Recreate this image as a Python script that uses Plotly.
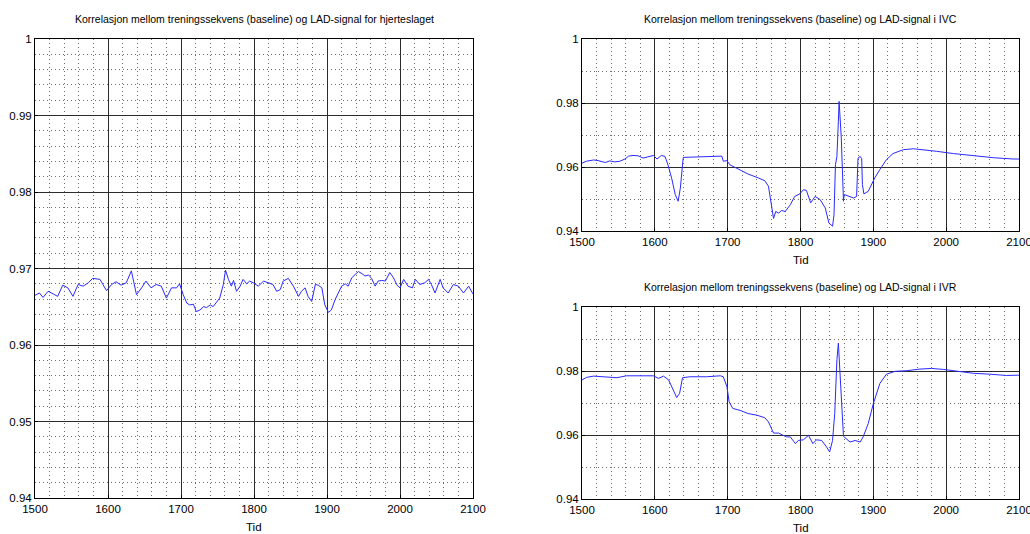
import plotly.graph_objects as go

# --- Heart layer correlation (left panel) ---
hjerte_t = [1500, 1506, 1511, 1518, 1525, 1531, 1538, 1545, 1552, 1559, 1566, 1573, 1579,
            1589, 1593, 1598, 1605, 1611, 1618, 1625, 1632, 1639, 1646, 1652, 1659, 1666,
            1673, 1680, 1687, 1694, 1698,
            1703, 1708, 1712, 1717, 1721, 1726, 1731, 1735, 1740, 1744, 1749, 1753, 1758,
            1761, 1765, 1769, 1772, 1776, 1781, 1785, 1790, 1794, 1799, 1806, 1813, 1820,
            1826, 1831, 1836, 1840, 1847, 1854, 1861, 1865, 1870, 1874, 1879, 1884, 1888,
            1893, 1897, 1902,
            1906, 1911, 1916, 1920, 1925, 1929, 1934, 1938, 1943, 1948, 1952, 1957, 1961,
            1966, 1970, 1975, 1980, 1986, 1991, 1996, 2000, 2005, 2011, 2017, 2021, 2027,
            2034, 2039, 2043, 2048, 2055, 2059, 2066, 2073, 2080, 2087, 2094, 2100]
hjerte_r = [0.96649, 0.96680, 0.96622, 0.96702, 0.96667, 0.96636, 0.96782, 0.96747,
            0.96636, 0.96791, 0.96769, 0.96813, 0.96871, 0.96858, 0.96791, 0.96711,
            0.96791, 0.96827, 0.96782, 0.96813, 0.96969, 0.96658, 0.96747, 0.96836,
            0.96747, 0.96791, 0.96769, 0.96613, 0.96747, 0.96747, 0.96800,
            0.96658, 0.96547, 0.96524, 0.96533, 0.96436, 0.96458, 0.96502, 0.96489,
            0.96524, 0.96502, 0.96569, 0.96613, 0.96791, 0.96978, 0.96858, 0.96769,
            0.96844, 0.96702, 0.96769, 0.96858, 0.96800, 0.96836, 0.96813, 0.96769,
            0.96836, 0.96813, 0.96791, 0.96702, 0.96724, 0.96836, 0.96871, 0.96769,
            0.96636, 0.96702, 0.96747, 0.96636, 0.96569, 0.96791, 0.96782, 0.96747,
            0.96524, 0.96427,
            0.96458, 0.96591, 0.96702, 0.96769, 0.96800, 0.96769, 0.96880, 0.96916,
            0.96960, 0.96933, 0.96902, 0.96916, 0.96871, 0.96769, 0.96836, 0.96844,
            0.96836, 0.96947, 0.96880, 0.96782, 0.96747, 0.96858, 0.96769, 0.96747,
            0.96858, 0.96791, 0.96813, 0.96858, 0.96791, 0.96680, 0.96858, 0.96747,
            0.96680, 0.96791, 0.96769, 0.96680, 0.96769, 0.96667]

# --- IVC correlation (top right) ---
ivc_t = [1500, 1506, 1516, 1522, 1532, 1538, 1545, 1552, 1559, 1564, 1570, 1577, 1584,
         1591, 1598, 1603, 1609, 1614, 1618, 1623, 1628, 1632, 1635, 1639, 1653, 1667,
         1678, 1692, 1694, 1699, 1703, 1715, 1728, 1742, 1751, 1756, 1759, 1763, 1766,
         1770, 1774, 1779, 1786, 1792, 1799, 1804, 1808, 1814, 1820, 1827, 1834, 1839,
         1844, 1846, 1848, 1850, 1852, 1853, 1856, 1857, 1858, 1859, 1860, 1866, 1873,
         1877, 1879, 1882, 1884, 1885, 1887, 1893, 1902, 1909, 1918, 1927, 1941, 1955,
         1969, 1987, 2010, 2037, 2065, 2092, 2100]
ivc_r = [0.9612, 0.9618, 0.9622, 0.9620, 0.9614, 0.9619, 0.9616, 0.9618, 0.9625, 0.9634,
         0.9636, 0.9635, 0.9628, 0.9631, 0.9636, 0.9625, 0.9636, 0.9633, 0.9607, 0.9566,
         0.9514, 0.9493, 0.9534, 0.9630, 0.9631, 0.9633, 0.9634, 0.9634, 0.9618, 0.9620,
         0.9607, 0.9592, 0.9578, 0.9566, 0.9557, 0.9540, 0.9493, 0.9439, 0.9461, 0.9456,
         0.9464, 0.9461, 0.9482, 0.9508, 0.9516, 0.9529, 0.9527, 0.9488, 0.9508, 0.9498,
         0.9472, 0.9425, 0.9415, 0.9451, 0.9607, 0.9633, 0.9743, 0.9805, 0.9691, 0.9607,
         0.9570, 0.9493, 0.9514, 0.9508, 0.9503, 0.9508, 0.9628, 0.9633, 0.9626, 0.9545,
         0.9516, 0.9524, 0.9566, 0.9592, 0.9623, 0.9642, 0.9654, 0.9657, 0.9654, 0.9649,
         0.9642, 0.9635, 0.9629, 0.9625, 0.9625]

# --- IVR correlation (bottom right) ---
ivr_t = [1500, 1506, 1516, 1534, 1548, 1561, 1580, 1598, 1605, 1612, 1619, 1625, 1630,
         1634, 1638, 1648, 1671, 1690, 1694, 1699, 1702, 1707, 1717, 1728, 1740, 1751,
         1756, 1763, 1770, 1776, 1781, 1786, 1793, 1797, 1804, 1811, 1817, 1822, 1829,
         1836, 1840, 1844, 1847, 1850, 1852, 1854, 1857, 1859, 1868, 1875, 1882, 1886,
         1893, 1900, 1909, 1918, 1930, 1946, 1964, 1980, 1996, 2015, 2037, 2060, 2083,
         2100]
ivr_r = [0.9772, 0.9780, 0.9784, 0.9782, 0.9779, 0.9785, 0.9784, 0.9785, 0.9777, 0.9784,
         0.9772, 0.9740, 0.9717, 0.9730, 0.9779, 0.9782, 0.9782, 0.9785, 0.9782, 0.9751,
         0.9704, 0.9683, 0.9677, 0.9667, 0.9662, 0.9654, 0.9641, 0.9606, 0.9606, 0.9599,
         0.9594, 0.9594, 0.9573, 0.9583, 0.9585, 0.9599, 0.9573, 0.9585, 0.9583, 0.9562,
         0.9547, 0.9583, 0.9667, 0.9835, 0.9887, 0.9803, 0.9667, 0.9596, 0.9578, 0.9583,
         0.9578, 0.9594, 0.9636, 0.9698, 0.9761, 0.9790, 0.9799, 0.9801, 0.9806, 0.9808,
         0.9805, 0.9800, 0.9793, 0.9790, 0.9786, 0.9787]

titles = [
    "Korrelasjon mellom treningssekvens (baseline) og LAD-signal for hjerteslaget",
    "Korrelasjon mellom treningssekvens (baseline) og LAD-signal i IVC",
    "Korrelasjon mellom treningssekvens (baseline) og LAD-signal i IVR",
]
x_label = "Tid"

W, H = 1030, 534
FONT = "Liberation Sans Narrow, Arial Narrow, Liberation Sans, Arial, sans-serif"
LINE_COLOR = "#2a2aff"
TITLE_SIZE = 10.5
TICK_SIZE = 11.5


def px_x(a, b):
    return [a / W, b / W]


def px_y(top, bottom):
    return [1 - bottom / H, 1 - top / H]


fig = go.Figure()

panels = [
    # (x pixel span, y pixel span, y major step, y minor step, data)
    ((35, 473), (39, 498), 0.01, 0.002, hjerte_t, hjerte_r),
    ((582, 1019), (39, 231), 0.02, 0.01, ivc_t, ivc_r),
    ((582, 1019), (307, 499), 0.02, 0.01, ivr_t, ivr_r),
]

minor_grid = dict(showgrid=True, griddash="1px,3px", gridcolor="#6e6e6e", gridwidth=1)

for i, (xs, ys, ymaj, ymin, t, r) in enumerate(panels):
    n = "" if i == 0 else str(i + 1)
    fig.add_trace(go.Scatter(x=t, y=r, mode="lines",
                             line=dict(color=LINE_COLOR, width=1),
                             xaxis="x" + n, yaxis="y" + n, showlegend=False,
                             hoverinfo="skip"))
    common = dict(showline=True, mirror=True, linecolor="#000000", linewidth=1,
                  showgrid=True, gridcolor="#2b2b2b", gridwidth=1, zeroline=False,
                  ticks="inside", ticklen=3, tickcolor="#000000", automargin=False,
                  ticklabeloverflow="allow",
                  tickfont=dict(family=FONT, size=TICK_SIZE, color="#000000"))
    fig.layout["xaxis" + n] = dict(
        common, domain=px_x(*xs), range=[1500, 2100], tick0=1500, dtick=100,
        anchor="y" + n, minor=dict(minor_grid, tick0=1500, dtick=20))
    fig.layout["yaxis" + n] = dict(
        common, domain=px_y(*ys), range=[0.94, 1.0], tick0=0.94, dtick=ymaj,
        anchor="x" + n, minor=dict(minor_grid, tick0=0.94, dtick=ymin))

    cx = (xs[0] + xs[1]) / 2 / W
    fig.add_annotation(text=titles[i], x=cx, y=1 - (ys[0] - 20) / H, xref="paper",
                       yref="paper", showarrow=False, xanchor="center",
                       yanchor="middle",
                       font=dict(family=FONT, size=TITLE_SIZE, color="#000000"))
    fig.add_annotation(text=x_label, x=cx, y=1 - (ys[1] + 29) / H, xref="paper",
                       yref="paper", showarrow=False, xanchor="center",
                       yanchor="middle",
                       font=dict(family=FONT, size=TICK_SIZE, color="#000000"))

fig.update_layout(width=W, height=H, margin=dict(l=0, r=0, t=0, b=0, autoexpand=False),
                  paper_bgcolor="#ffffff", plot_bgcolor="#ffffff",
                  font=dict(family=FONT, size=TICK_SIZE, color="#000000"))

fig.write_html("out.html", config={"displayModeBar": False})
